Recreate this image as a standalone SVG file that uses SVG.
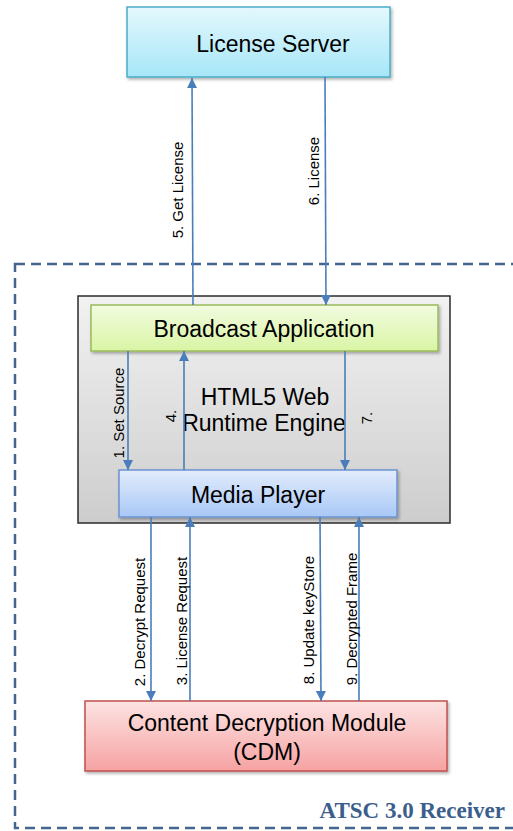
<svg xmlns="http://www.w3.org/2000/svg" width="513" height="831" viewBox="0 0 513 831">
<defs>
<linearGradient id="gLS" x1="0" y1="0" x2="0" y2="1"><stop offset="0" stop-color="#e4f8fd"/><stop offset="1" stop-color="#a6e6f8"/></linearGradient>
<linearGradient id="gGray" x1="0" y1="0" x2="0" y2="1"><stop offset="0" stop-color="#f2f2f2"/><stop offset="1" stop-color="#cdcdcd"/></linearGradient>
<linearGradient id="gBA" x1="0" y1="0" x2="0" y2="1"><stop offset="0" stop-color="#f2fbe0"/><stop offset="1" stop-color="#d9f5a4"/></linearGradient>
<linearGradient id="gMP" x1="0" y1="0" x2="0" y2="1"><stop offset="0" stop-color="#e2ecfc"/><stop offset="1" stop-color="#a9c8f6"/></linearGradient>
<linearGradient id="gCDM" x1="0" y1="0" x2="0" y2="1"><stop offset="0" stop-color="#fde3e3"/><stop offset="1" stop-color="#f6a2a2"/></linearGradient>
<filter id="sh" x="-5%" y="-10%" width="112%" height="130%"><feDropShadow dx="1.5" dy="2" stdDeviation="1.5" flood-color="#000" flood-opacity="0.3"/></filter>
<marker id="ah" viewBox="0 0 10 10" refX="10" refY="5" markerWidth="10" markerHeight="10" markerUnits="userSpaceOnUse" orient="auto"><path d="M0,0 L10,5 L0,10 Z" fill="#4a7ebb"/></marker>
</defs>
<style>
.main{font-family:"Liberation Sans",Arial,sans-serif;font-size:23px;fill:#000;text-anchor:middle}
.lbl{font-family:"Liberation Sans",Arial,sans-serif;font-size:15px;fill:#000;text-anchor:middle}
.conn line{stroke:#4a7ebb;stroke-width:1.6;marker-end:url(#ah)}
</style>
<g id="receiver">
<rect x="15" y="264" width="520" height="564" fill="none" stroke="#44658f" stroke-width="2.5" stroke-dasharray="10,6"/>
<text x="505" y="818" font-family="'Liberation Serif','Times New Roman',serif" font-weight="bold" font-size="23" fill="#3b5e8c" text-anchor="end">ATSC 3.0 Receiver</text>
</g>
<g id="license-server">
<rect x="127" y="7" width="263" height="70" fill="url(#gLS)" stroke="#4bacc6" stroke-width="1.5" filter="url(#sh)"/>
<text class="main" x="273" y="52">License Server</text>
</g>
<g id="runtime-engine">
<rect x="78" y="296" width="372" height="227" fill="url(#gGray)" stroke="#2b2b2b" stroke-width="1.5"/>
<text class="main" x="265" y="405">HTML5 Web</text>
<text class="main" x="264" y="431">Runtime Engine</text>
</g>
<g id="broadcast-application">
<rect x="91" y="305" width="347" height="46" fill="url(#gBA)" stroke="#9bbb59" stroke-width="1.5" filter="url(#sh)"/>
<text class="main" x="264" y="337">Broadcast Application</text>
</g>
<g id="media-player">
<rect x="119" y="470" width="278" height="47" fill="url(#gMP)" stroke="#6c93d0" stroke-width="1.5" filter="url(#sh)"/>
<text class="main" x="258" y="503">Media Player</text>
</g>
<g id="cdm">
<rect x="85" y="701" width="362" height="70" fill="url(#gCDM)" stroke="#c0504d" stroke-width="1.5" filter="url(#sh)"/>
<text class="main" x="267" y="731">Content Decryption Module</text>
<text class="main" x="267" y="760">(CDM)</text>
</g>
<g id="connectors" class="conn">
<line x1="193" y1="305" x2="192" y2="78"/>
<line x1="325" y1="77" x2="326" y2="305"/>
<line x1="128" y1="351" x2="128" y2="470"/>
<line x1="184" y1="470" x2="184" y2="351"/>
<line x1="345" y1="351" x2="345" y2="470"/>
<line x1="151" y1="517" x2="151" y2="701"/>
<line x1="190" y1="701" x2="190" y2="517"/>
<line x1="320" y1="517" x2="321" y2="701"/>
<line x1="359" y1="701" x2="359" y2="517"/>
</g>
<g id="labels">
<text class="lbl" transform="translate(183,190) rotate(-90)">5. Get License</text>
<text class="lbl" transform="translate(319,171) rotate(-90)">6. License</text>
<text class="lbl" transform="translate(124,413) rotate(-90)">1. Set Source</text>
<text class="lbl" transform="translate(176,416) rotate(-90)">4.</text>
<text class="lbl" transform="translate(372,418) rotate(-90)">7.</text>
<text class="lbl" transform="translate(145,622) rotate(-90)">2. Decrypt Request</text>
<text class="lbl" transform="translate(187,621) rotate(-90)">3. License Request</text>
<text class="lbl" transform="translate(314,620) rotate(-90)">8. Update keyStore</text>
<text class="lbl" transform="translate(357,619) rotate(-90)">9. Decrypted Frame</text>
</g>
</svg>
